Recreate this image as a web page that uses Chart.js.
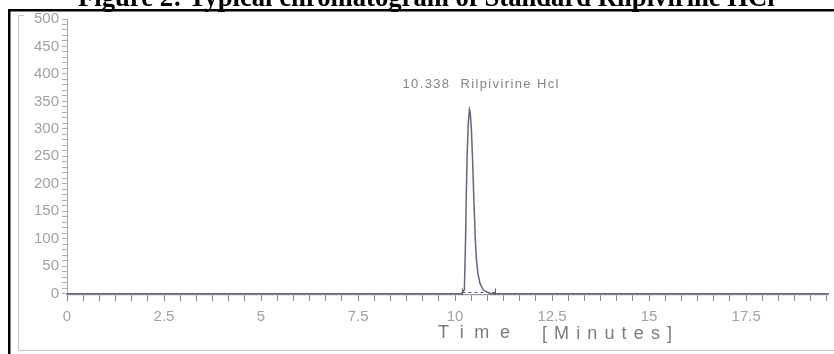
<!DOCTYPE html>
<html>
<head>
<meta charset="utf-8">
<script src="https://cdn.jsdelivr.net/npm/chart.js@4.4.0/dist/chart.umd.min.js"></script>
<style>
  body { margin: 0; background: #fff; }
  canvas { display: block; }
</style>
</head>
<body>
<canvas id="chromChart" width="834" height="354"></canvas>
<script>
// detector trace (minutes vs mV)
var times  = [0, 10.16, 10.24, 10.27, 10.29, 10.31, 10.34, 10.37, 10.39, 10.42, 10.45, 10.48, 10.52, 10.55, 10.59, 10.64, 10.72, 10.87, 10.95, 19.63];
var signal = [0, 0, 7, 98, 183, 250, 310, 335, 330, 300, 245, 180, 100, 62, 36, 19, 7, 1, 0, 0];

// integration start / end marks
var markTimes = [10.19, 11.04];
var markLevel = [2, 2];

var xTickLabels = ['0', '2.5', '5', '7.5', '10', '12.5', '15', '17.5'];
var yTickLabels = [0, 50, 100, 150, 200, 250, 300, 350, 400, 450, 500];

var titleText = 'Figure 2: Typical chromatogram of Standard Rilpivirine HCl';
var peakText = '10.338  Rilpivirine Hcl';

var traceData = [];
for (var i = 0; i < times.length; i++) {
  traceData.push({ x: times[i], y: signal[i] });
}
var markData = [];
for (var j = 0; j < markTimes.length; j++) {
  markData.push({ x: markTimes[j], y: markLevel[j] });
}

function spaced(ctx, text, x0, x1, y) {
  var widths = [], total = 0;
  for (var k = 0; k < text.length; k++) {
    widths.push(ctx.measureText(text[k]).width);
    total += widths[k];
  }
  var gap = text.length > 1 ? (x1 - x0 - total) / (text.length - 1) : 0;
  var x = x0;
  for (var k2 = 0; k2 < text.length; k2++) {
    ctx.fillText(text[k2], x, y);
    x += widths[k2] + gap;
  }
}

var framePlugin = {
  id: 'frame',
  afterDraw: function(chart) {
    var ctx = chart.ctx;
    ctx.save();

    // inner grey frame
    ctx.strokeStyle = '#c4c4c4';
    ctx.lineWidth = 1;
    ctx.beginPath();
    ctx.moveTo(24, 15.5);
    ctx.lineTo(18.5, 15.5);
    ctx.lineTo(18.5, 350.5);
    ctx.lineTo(834, 350.5);
    ctx.stroke();

    // black outer frame
    ctx.fillStyle = '#000';
    ctx.fillRect(8, 9, 826, 2.5);
    ctx.fillRect(8, 9, 2.5, 345);

    // figure caption, cut off at the top
    ctx.font = 'bold 22px "Liberation Serif"';
    var w = ctx.measureText(titleText).width;
    var size = 22 * 697 / w;
    ctx.font = 'bold ' + size.toFixed(2) + 'px "Liberation Serif"';
    ctx.textBaseline = 'alphabetic';
    ctx.fillText(titleText, 78, 6);

    // peak annotation
    var xs = chart.scales.x;
    var apexX = xs.getPixelForValue(times[signal.indexOf(Math.max.apply(null, signal))]);
    ctx.fillStyle = '#858585';
    ctx.font = '13px "Liberation Sans"';
    spaced(ctx, peakText, apexX - 67, apexX + 89, 88);

    // axis title
    ctx.fillStyle = '#7c7c7c';
    ctx.font = '18px "Liberation Sans"';
    spaced(ctx, 'Time', 438, 510, 338);
    spaced(ctx, '[Minutes]', 542, 672, 339);

    ctx.restore();
  }
};

var ctx = document.getElementById('chromChart').getContext('2d');
new Chart(ctx, {
  type: 'line',
  data: {
    datasets: [
      {
        data: traceData,
        borderColor: '#66667a',
        borderWidth: 1.5,
        pointRadius: 0,
        tension: 0
      },
      {
        data: markData,
        borderColor: '#555',
        borderWidth: 1,
        borderDash: [3, 3],
        pointStyle: 'line',
        pointRotation: 90,
        pointRadius: 4,
        pointBorderColor: '#555',
        pointBorderWidth: 1
      }
    ]
  },
  options: {
    responsive: false,
    animation: false,
    layout: { padding: { top: 19, left: 0, right: 0, bottom: 0 } },
    plugins: {
      legend: { display: false },
      tooltip: { enabled: false }
    },
    scales: {
      x: {
        type: 'linear',
        min: 0,
        max: 19.63,
        afterFit: function(s) { s.height = 59; },
        afterBuildTicks: function(s) {
          var t = [];
          for (var n = 0; n * 2.5 / 6 <= 19.63; n++) t.push({ value: n * 2.5 / 6 });
          s.ticks = t;
        },
        border: { display: true, color: '#9a9aa2', width: 1.2 },
        grid: { drawOnChartArea: false, drawTicks: true, tickLength: 6, tickColor: '#8a8a8a' },
        ticks: {
          autoSkip: false,
          maxRotation: 0,
          padding: 7,
          color: '#a2a2a2',
          font: { family: 'Liberation Sans', size: 15 },
          callback: function(v, idx) {
            return idx % 6 === 0 ? xTickLabels[idx / 6] : '';
          }
        }
      },
      y: {
        min: -2.5,
        max: 500,
        afterFit: function(s) { s.width = 67; },
        afterBuildTicks: function(s) {
          var t = [];
          for (var n = 0; n <= 500; n += 10) t.push({ value: n });
          s.ticks = t;
        },
        border: { display: true, color: '#a8a8a8', width: 1 },
        grid: { drawOnChartArea: false, drawTicks: true, tickLength: 5, tickColor: '#b0b0b0' },
        ticks: {
          autoSkip: false,
          padding: 3,
          color: '#a2a2a2',
          font: { family: 'Liberation Sans', size: 15 },
          callback: function(v) {
            return yTickLabels.indexOf(v) >= 0 ? String(v) : '';
          }
        }
      }
    }
  },
  plugins: [framePlugin]
});
</script>
</body>
</html>
